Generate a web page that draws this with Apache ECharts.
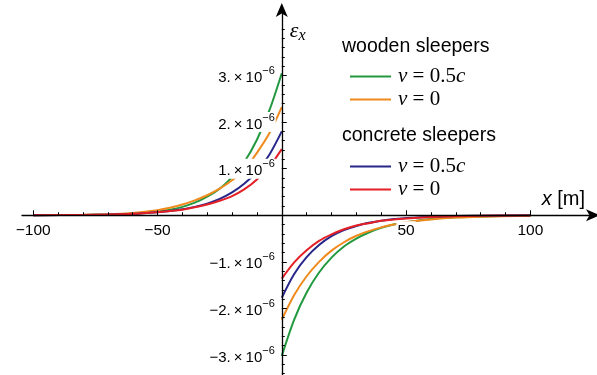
<!DOCTYPE html>
<html>
<head>
<meta charset="utf-8">
<script src="https://cdn.jsdelivr.net/npm/echarts@6/dist/echarts.min.js"></script>
<style>html,body{margin:0;padding:0;background:#fff}#c{width:597px;height:375px}</style>
</head>
<body>
<div id="c"></div>
<script>
// strain values in units of 1e-6
const xLeft  = [-100, -80, -70, -60, -50, -45, -40, -35, -30, -25, -20, -15, -10, -5, 0];
const xRight = [0, 5, 10, 15, 20, 25, 30, 35, 40, 45, 50, 60, 70, 80, 100];

const woodFastLeft  = [0.002, 0.007, 0.015, 0.035, 0.08, 0.12, 0.18, 0.27, 0.40, 0.57, 0.82, 1.15, 1.62, 2.25, 3.05];
const woodSlowLeft  = [0.003, 0.01, 0.02, 0.05, 0.11, 0.16, 0.23, 0.32, 0.43, 0.57, 0.75, 0.98, 1.34, 1.76, 2.32];
const concFastLeft  = [0.002, 0.007, 0.015, 0.03, 0.065, 0.09, 0.13, 0.18, 0.25, 0.35, 0.49, 0.68, 0.94, 1.30, 1.80];
const concSlowLeft  = [0.002, 0.007, 0.015, 0.03, 0.065, 0.09, 0.12, 0.17, 0.23, 0.31, 0.41, 0.56, 0.77, 1.05, 1.42];

const woodFastRight = [-3.02, -2.24, -1.66, -1.23, -0.91, -0.67, -0.50, -0.37, -0.27, -0.20, -0.15, -0.08, -0.045, -0.025, -0.008];
const woodSlowRight = [-2.24, -1.71, -1.31, -1.00, -0.76, -0.58, -0.44, -0.34, -0.26, -0.20, -0.15, -0.09, -0.05, -0.03, -0.01];
const concFastRight = [-1.77, -1.26, -0.90, -0.64, -0.45, -0.32, -0.23, -0.16, -0.12, -0.08, -0.06, -0.03, -0.015, -0.008, -0.002];
const concSlowRight = [-1.36, -1.01, -0.75, -0.55, -0.41, -0.30, -0.22, -0.17, -0.12, -0.09, -0.07, -0.04, -0.02, -0.01, -0.003];

const xMajorTicks = [-100, -50, 0, 50, 100];
const xLabelValues = [-100, -50, 50, 100];
const xMinorTicks = [-90, -80, -70, -60, -40, -30, -20, -10, 10, 20, 30, 40, 60, 70, 80, 90];
const yMajorTicks = [-3, -2, -1, 0, 1, 2, 3];
const yLabelValues = [-3, -2, -1, 1, 2, 3];
const yMinorTicks = [-3.4, -3.2, -2.8, -2.6, -2.4, -2.2, -1.8, -1.6, -1.4, -1.2, -0.8, -0.6, -0.4, -0.2,
                     0.2, 0.4, 0.6, 0.8, 1.2, 1.4, 1.6, 1.8, 2.2, 2.4, 2.6, 2.8, 3.2, 3.4, 3.6, 3.8, 4.0];

const names = { wf: 'wooden v=0.5c', ws: 'wooden v=0', cf: 'concrete v=0.5c', cs: 'concrete v=0' };
const colors = { wf: '#23993f', ws: '#f08a1d', cf: '#27278a', cs: '#e41f26' };

function pairs(xs, ys) { return xs.map((x, i) => [x, ys[i]]); }
function line(key, xs, ys) {
  return {
    type: 'line', name: names[key], data: pairs(xs, ys), showSymbol: false, symbol: 'none',
    smooth: 0.3, z: 2, xAxisIndex: 0, yAxisIndex: 0,
    lineStyle: { color: colors[key], width: 2 }, itemStyle: { color: colors[key] }
  };
}

const serifI = { fontFamily: 'Liberation Serif', fontStyle: 'italic', fontSize: 21, color: '#000' };
const legendText = {
  fontFamily: 'Liberation Serif', fontSize: 21, color: '#000', lineHeight: 23, padding: [0, 0, 0, 2],
  rich: { i: serifI, n: { fontFamily: 'Liberation Serif', fontSize: 21, color: '#000' } }
};
function legendFmt(name) {
  return name.indexOf('0.5c') >= 0 ? '{i|v}{n| = 0.5}{i|c}' : '{i|v}{n| = 0}';
}

const labelRich = {
  b: { fontFamily: 'Liberation Sans', fontSize: 15, color: '#000', lineHeight: 20, verticalAlign: 'bottom' },
  s: { fontFamily: 'Liberation Sans', fontSize: 11, color: '#000', lineHeight: 12, verticalAlign: 'top' }
};

// plot frame (layout only)
const G = { left: 22, right: 2, top: 8, bottom: 0, w: 597, h: 375 };
const X_MIN = -104.5, X_MAX = 126, Y_MIN = -3.43, Y_MAX = 4.45;
// offsets that put the major-tick axes on the zero lines of the main axes
const xZeroPx = G.left + (0 - X_MIN) / (X_MAX - X_MIN) * (G.w - G.left - G.right);
const yZeroPx = G.top + (Y_MAX - 0) / (Y_MAX - Y_MIN) * (G.h - G.top - G.bottom);

const chart = echarts.init(document.getElementById('c'));
chart.setOption({
  animation: false,
  backgroundColor: '#fff',
  grid: { left: G.left, right: G.right, top: G.top, bottom: G.bottom, containLabel: false, outerBoundsMode: 'none' },
  xAxis: [
    {
      type: 'value', min: X_MIN, max: X_MAX, position: 'bottom', z: 3,
      axisLine: { onZero: true, lineStyle: { color: '#000', width: 1.3 },
                  symbol: ['none', 'arrow'], symbolSize: [9, 14], symbolOffset: [0, 5] },
      axisTick: { show: true, inside: true, length: 3, customValues: xMinorTicks, lineStyle: { color: '#000', width: 1 } },
      axisLabel: { show: false }, splitLine: { show: false },
      name: '{i|x}{n| [m]}', nameLocation: 'end', nameGap: -10,
      nameTextStyle: { align: 'right', verticalAlign: 'bottom', padding: [0, 0, 6, 0],
        rich: { i: { fontFamily: 'Liberation Sans', fontStyle: 'italic', fontSize: 20, color: '#000' },
                n: { fontFamily: 'Liberation Sans', fontSize: 20, color: '#000' } } }
    },
    {
      type: 'value', min: X_MIN, max: X_MAX, position: 'bottom', z: 3,
      offset: yZeroPx - (G.h - G.bottom),
      axisLine: { show: false, onZero: false },
      axisTick: { show: true, inside: true, length: 5, customValues: xMajorTicks, lineStyle: { color: '#000', width: 1 } },
      axisLabel: { show: true, customValues: xLabelValues, margin: 6, fontFamily: 'Liberation Sans', fontSize: 15.5, color: '#000',
                   backgroundColor: '#fff', padding: [1, 1, 0, 1],
                   formatter: v => String(v).replace('-', '\u2212') },
      splitLine: { show: false }
    }
  ],
  yAxis: [
    {
      type: 'value', min: Y_MIN, max: Y_MAX, position: 'left', z: 3,
      axisLine: { onZero: true, lineStyle: { color: '#000', width: 1.3 },
                  symbol: ['none', 'arrow'], symbolSize: [9, 14], symbolOffset: [0, 5] },
      axisTick: { show: true, inside: true, length: 3, customValues: yMinorTicks, lineStyle: { color: '#000', width: 1 } },
      axisLabel: { show: false }, splitLine: { show: false },
      name: '{e|\u03b5}{s|x}', nameLocation: 'end', nameGap: -24,
      nameTextStyle: { align: 'left', verticalAlign: 'middle', padding: [0, 0, 0, 8],
        rich: { e: { fontFamily: 'Liberation Serif', fontStyle: 'italic', fontSize: 22, color: '#000', lineHeight: 24, verticalAlign: 'top' },
                s: { fontFamily: 'Liberation Serif', fontStyle: 'italic', fontSize: 16, color: '#000', lineHeight: 16, verticalAlign: 'bottom' } } }
    },
    {
      type: 'value', min: Y_MIN, max: Y_MAX, position: 'left', z: 3,
      offset: G.left - xZeroPx,
      axisLine: { show: false, onZero: false },
      axisTick: { show: true, inside: true, length: 5, customValues: yMajorTicks, lineStyle: { color: '#000', width: 1 } },
      axisLabel: { show: true, customValues: yLabelValues, margin: 6, backgroundColor: '#fff', padding: [0, 1, 0, 1],
                   formatter: v => '{b|' + String(v).replace('-', '\u2212') + '.\u2009\u00d7\u200910}{s|\u22126}',
                   rich: labelRich },
      splitLine: { show: false }
    }
  ],
  legend: [
    {
      data: [names.wf, names.ws], orient: 'vertical', left: 345, top: 60, itemWidth: 41, itemHeight: 2,
      itemGap: 0, icon: 'rect', textStyle: legendText, formatter: legendFmt, selectedMode: false
    },
    {
      data: [names.cf, names.cs], orient: 'vertical', left: 345, top: 150, itemWidth: 41, itemHeight: 2,
      itemGap: 0, icon: 'rect', textStyle: legendText, formatter: legendFmt, selectedMode: false
    }
  ],
  graphic: [
    { type: 'text', left: 342, top: 37, style: { text: 'wooden sleepers', fontFamily: 'Liberation Sans', fontSize: 19.5, fill: '#000' } },
    { type: 'text', left: 342, top: 126, style: { text: 'concrete sleepers', fontFamily: 'Liberation Sans', fontSize: 19.5, fill: '#000' } }
  ],
  series: [
    line('wf', xLeft, woodFastLeft), line('wf', xRight, woodFastRight),
    line('ws', xLeft, woodSlowLeft), line('ws', xRight, woodSlowRight),
    line('cf', xLeft, concFastLeft), line('cf', xRight, concFastRight),
    line('cs', xLeft, concSlowLeft), line('cs', xRight, concSlowRight)
  ]
});
</script>
</body>
</html>
